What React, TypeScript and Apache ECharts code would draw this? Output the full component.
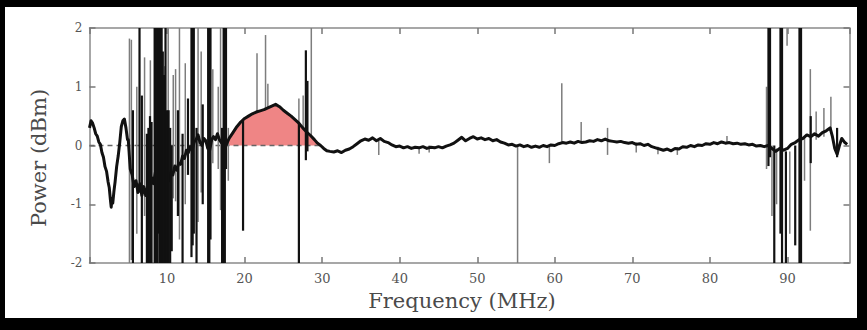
import React, { useEffect, useRef } from "react";
import * as echarts from "echarts";

// ---- data ----
// main trace, low band (0 - 17.5 MHz)
const traceLowBand: number[][] = [
  [0.0, 0.3], [0.2, 0.42], [0.4, 0.38], [0.6, 0.3], [0.8, 0.2], [1.0, 0.16], [1.2, 0.06], [1.4, 0.02],
  [1.6, -0.12], [1.8, -0.2], [2.0, -0.36], [2.2, -0.44], [2.4, -0.62], [2.55, -0.72], [2.7, -0.93],
  [2.8, -1.05], [2.9, -0.9], [3.0, -0.98], [3.15, -0.78], [3.3, -0.62], [3.5, -0.36], [3.7, -0.18],
  [3.9, 0.05], [4.1, 0.32], [4.3, 0.42], [4.5, 0.45], [4.7, 0.3], [4.9, 0.1],
  [5.0, 0.1], [5.25, -0.4], [5.5, -0.5], [5.75, -0.7], [6.0, -0.6], [6.25, -0.8], [6.5, -0.65],
  [6.75, -0.85], [7.0, -0.7], [7.25, -0.85], [7.5, -0.7], [7.75, -0.72], [8.0, -0.55], [8.25, -0.65],
  [8.5, -0.45], [8.75, -0.6], [9.0, -0.5], [9.25, -0.62], [9.5, -0.48], [9.75, -0.65], [10.0, -0.55],
  [10.25, -0.6], [10.5, -0.45], [10.75, -0.5], [11.0, -0.35], [11.25, -0.42], [11.5, -0.3],
  [11.75, -0.32], [12.0, -0.18], [12.25, -0.22], [12.5, -0.08], [12.75, -0.12], [13.0, -0.02],
  [13.25, -0.08], [13.5, 0.06], [13.75, 0.1], [14.0, 0.18], [14.25, 0.05], [14.5, 0.0], [14.75, 0.12],
  [15.0, 0.08], [15.25, -0.05], [15.5, -0.08], [15.75, 0.1], [16.0, 0.15], [16.25, 0.1], [16.5, 0.2],
  [16.75, 0.1], [17.0, 0.05], [17.3, 0.02],
];

// main trace, hump (17.6 - 31 MHz)
const traceHump: number[][] = [
  [17.6, 0.0], [18.0, 0.12], [18.5, 0.22], [19.0, 0.32], [19.5, 0.4], [20.0, 0.46], [20.5, 0.5],
  [21.0, 0.54], [21.5, 0.57], [22.0, 0.59], [22.5, 0.61], [23.0, 0.64], [23.5, 0.67], [24.0, 0.7],
  [24.5, 0.66], [25.0, 0.6], [25.5, 0.55], [26.0, 0.5], [26.5, 0.44], [27.0, 0.38], [27.5, 0.3],
  [28.0, 0.23], [28.5, 0.17], [29.0, 0.1], [29.4, 0.04], [29.8, 0.0], [30.2, -0.05], [30.6, -0.09],
  [31.0, -0.1],
];

// main trace, flat part (31.5 - 87 MHz)
const traceFlat: number[][] = [
  [31.5, -0.11], [32.0, -0.09], [32.5, -0.12], [33.0, -0.08], [33.5, -0.06], [34.0, -0.02], [34.5, 0.03],
  [35.0, 0.08], [35.5, 0.11], [36.0, 0.09], [36.5, 0.13], [37.0, 0.08], [37.5, 0.12], [38.0, 0.07],
  [38.5, 0.05], [39.0, 0.01], [39.5, -0.02], [40.0, -0.01], [40.5, -0.04], [41.0, -0.02], [41.5, -0.05],
  [42.0, -0.03], [42.5, -0.04], [43.0, -0.02], [43.5, -0.05], [44.0, -0.03], [44.5, -0.04], [45.0, -0.02],
  [45.5, -0.04], [46.0, -0.01], [46.5, 0.01], [47.0, 0.04], [47.5, 0.09], [48.0, 0.14], [48.5, 0.08],
  [49.0, 0.12], [49.5, 0.15], [50.0, 0.11], [50.5, 0.13], [51.0, 0.1], [51.5, 0.12], [52.0, 0.08],
  [52.5, 0.1], [53.0, 0.06], [53.5, 0.04], [54.0, 0.01], [54.5, 0.02], [55.0, -0.01], [55.5, 0.01],
  [56.0, -0.02], [56.5, 0.0], [57.0, -0.03], [57.5, -0.01], [58.0, -0.03], [58.5, 0.0], [59.0, -0.02],
  [59.5, 0.01], [60.0, 0.0], [60.5, 0.03], [61.0, 0.05], [61.5, 0.04], [62.0, 0.06], [62.5, 0.04],
  [63.0, 0.07], [63.5, 0.05], [64.0, 0.06], [64.5, 0.08], [65.0, 0.07], [65.5, 0.1], [66.0, 0.08],
  [66.5, 0.11], [67.0, 0.08], [67.5, 0.07], [68.0, 0.06], [68.5, 0.07], [69.0, 0.05], [69.5, 0.04],
  [70.0, 0.05], [70.5, 0.02], [71.0, 0.03], [71.5, 0.0], [72.0, 0.02], [72.5, -0.02], [73.0, -0.04],
  [73.5, -0.06], [74.0, -0.08], [74.5, -0.06], [75.0, -0.09], [75.5, -0.05], [76.0, -0.06], [76.5, -0.02],
  [77.0, -0.03], [77.5, 0.0], [78.0, -0.02], [78.5, 0.01], [79.0, 0.0], [79.5, 0.03], [80.0, 0.02],
  [80.5, 0.05], [81.0, 0.03], [81.5, 0.06], [82.0, 0.04], [82.5, 0.05], [83.0, 0.03], [83.5, 0.04],
  [84.0, 0.02], [84.5, 0.03], [85.0, 0.01], [85.5, 0.02], [86.0, -0.01], [86.5, 0.0], [87.0, -0.02],
];

// main trace, high band (87.5 - 97.7 MHz)
const traceHighBand: number[][] = [
  [87.5, 0.0], [88.0, -0.05], [88.5, -0.1], [89.0, -0.05], [89.5, -0.08], [90.0, -0.05], [90.5, 0.02],
  [91.0, 0.05], [91.5, 0.1], [92.0, 0.12], [92.5, 0.18], [93.0, 0.15], [93.5, 0.2], [94.0, 0.16],
  [94.5, 0.22], [95.0, 0.25], [95.5, 0.3], [95.8, 0.15], [96.1, -0.05], [96.4, -0.15], [96.7, 0.0],
  [97.0, 0.12], [97.4, 0.05], [97.7, 0.02],
];

// interference spikes: [freq, low, high]
const blackSpikes: number[][] = [
  [5.6, -2, 0.6], [6.45, -0.8, 2], [6.75, -2, 0.85], [7.4, -2, 0.2], [7.6, -2, 0.3], [7.8, -2, 0.5],
  [8.0, -2, 0.4], [8.4, -2, 2], [8.55, -2, 2], [8.7, -2, 2], [8.85, -1.5, 2], [9.0, -2, 2],
  [9.15, -2, 2], [9.3, -2, 2], [9.45, -2, 1.6], [9.6, -2, 1.2], [9.8, -2, 2], [10.0, -2, 0.6],
  [10.2, -2, 0.6], [10.4, -2, 0.3], [10.6, -1.8, 0.0], [11.4, -1.2, 0.6], [12.0, -2, 0.2],
  [12.7, -0.5, 0.8], [13.15, -1.9, 2], [13.3, -1.7, 2], [13.45, -1.5, 2], [13.8, -2, 0.3],
  [14.6, -1.0, 0.7], [15.3, -2, 2], [15.45, -2, 2], [15.6, -1.6, 2], [17.1, -2, 0.3],
  [17.3, -2, 2], [17.45, -2, 2], [17.6, -0.4, 2],
  [19.8, -1.45, 0.42], [27.0, -2, 0.38], [27.9, -0.25, 1.62], [28.1, -0.1, 1.1],
  [87.55, -0.35, 2], [87.75, -0.2, 2], [88.3, -2, 0.0], [89.1, -1.5, 2], [89.3, -2, 2],
  [89.8, -2, -0.1], [91.0, -1.7, 0.0], [91.55, -2, 2], [91.75, -2, 2], [93.0, -0.3, 0.5],
  [96.4, -0.2, 0.3],
];

const graySpikes: number[][] = [
  [5.15, -2, 1.82], [5.4, -1.95, 1.8], [6.1, -1.5, 1.0], [7.1, -1.2, 1.5], [7.85, -1.6, 1.45],
  [9.7, -1.3, 1.35], [10.15, -1.9, 2], [10.8, -0.9, 1.2], [11.1, -0.95, 1.3], [11.6, -1.6, 2],
  [12.35, -1.0, 1.4], [14.0, -1.3, 2], [14.4, -0.8, 1.6], [15.9, -0.3, 1.3], [16.6, -0.4, 1.0],
  [16.9, -1.1, 2], [17.9, -0.6, 0.3], [21.6, 0.55, 1.57], [22.7, 0.6, 1.88], [23.0, 0.62, 1.05],
  [27.0, 0.38, 0.8], [27.55, 0.3, 0.85], [28.6, 0.15, 2], [37.3, -0.16, 0.08], [42.5, -0.14, -0.03],
  [43.8, -0.12, 0.0], [55.2, -2, 0.0], [59.3, -0.3, 0.0], [60.9, 0.04, 1.06], [63.4, 0.05, 0.4],
  [66.8, -0.16, 0.3], [70.5, -0.12, 0.05], [73.3, -0.15, -0.02], [75.8, -0.16, -0.03],
  [82.2, 0.04, 0.16], [87.3, -0.4, 1.0], [88.0, -1.2, 0.0], [88.6, -1.0, -0.05], [89.95, 1.7, 2],
  [90.3, -1.5, -0.1], [92.2, -0.6, 0.15], [92.95, -1.45, 1.3], [93.7, 0.1, 0.58], [94.7, 0.15, 0.64],
  [95.6, 0.2, 0.83],
];

const xRange = [0, 98];
const yRange = [-2, 2];
const zeroLineRange = [0, 29.8];

const SERIF = '"DejaVu Serif", "Liberation Serif", serif';

function spikeSeries(name: string, data: number[][], color: string, width: number, z: number) {
  return {
    name,
    type: "custom",
    data,
    z,
    silent: true,
    encode: { x: 0, y: [1, 2] },
    renderItem: (_params: any, api: any) => {
      const x = api.value(0);
      const a = api.coord([x, api.value(1)]);
      const b = api.coord([x, api.value(2)]);
      return {
        type: "line",
        shape: { x1: a[0], y1: a[1], x2: b[0], y2: b[1] },
        style: { stroke: color, lineWidth: width },
      };
    },
  };
}

export default function App() {
  const ref = useRef<HTMLDivElement>(null);

  useEffect(() => {
    if (!ref.current) return;
    const chart = echarts.init(ref.current, undefined, { renderer: "svg" });

    const trace = [...traceLowBand, ...traceHump, ...traceFlat, ...traceHighBand];
    const fill = traceHump.filter((p) => p[0] >= 17.6 && p[0] <= 29.8 && p[1] >= 0);

    const axisLine = { show: true, onZero: false, lineStyle: { color: "#8a8a8a", width: 1.5 } };
    const axisTick = { show: true, inside: true, length: 6, lineStyle: { color: "#777", width: 1.5 } };

    chart.setOption({
      animation: false,
      grid: { left: 89.5, right: 17.5, top: 28, bottom: 67, containLabel: false },
      xAxis: [
        {
          type: "value", min: xRange[0], max: xRange[1], interval: 10, position: "bottom",
          axisLine, axisTick, splitLine: { show: false },
          axisLabel: {
            color: "#555", fontFamily: SERIF, fontSize: 13, margin: 9, showMaxLabel: false,
            formatter: (v: number) => (v === 0 ? "" : String(v)),
          },
        },
        {
          type: "value", min: xRange[0], max: xRange[1], interval: 10, position: "top",
          axisLine, axisTick, splitLine: { show: false }, axisLabel: { show: false },
        },
      ],
      yAxis: [
        {
          type: "value", min: yRange[0], max: yRange[1], interval: 1, position: "left",
          axisLine, axisTick, splitLine: { show: false },
          axisLabel: { color: "#555", fontFamily: SERIF, fontSize: 12, margin: 7 },
        },
        {
          type: "value", min: yRange[0], max: yRange[1], interval: 1, position: "right",
          axisLine, axisTick, splitLine: { show: false }, axisLabel: { show: false },
        },
      ],
      graphic: [
        {
          type: "text", x: 462, y: 301,
          style: { text: "Frequency (MHz)", font: `21px ${SERIF}`, fill: "#4a4a4a", textAlign: "center", textVerticalAlign: "middle" },
        },
        {
          type: "text", x: 39, y: 158, rotation: Math.PI / 2,
          style: { text: "Power (dBm)", font: `21px ${SERIF}`, fill: "#4a4a4a", textAlign: "center", textVerticalAlign: "middle" },
        },
      ],
      series: [
        {
          name: "fill", type: "line", data: fill, symbol: "none", z: 1, silent: true,
          lineStyle: { width: 0 }, areaStyle: { color: "#ef8585", opacity: 1 },
        },
        {
          name: "zero", type: "line", data: [[zeroLineRange[0], 0], [zeroLineRange[1], 0]], symbol: "none", z: 2, silent: true,
          lineStyle: { color: "#666", width: 1.5, type: [5, 4] },
        },
        spikeSeries("raw", graySpikes, "#7d7d7d", 1.5, 3),
        {
          name: "power", type: "line", data: trace, symbol: "none", z: 4, silent: true,
          lineStyle: { color: "#111", width: 3, join: "round" },
        },
        spikeSeries("interference", blackSpikes, "#111", 2.2, 5),
      ],
    });

    return () => chart.dispose();
  }, []);

  return (
    <div style={{ position: "fixed", left: 0, top: 0, width: 867, height: 330, background: "#000" }}>
      <div style={{ position: "absolute", left: 5, top: 7, width: 852, height: 311, background: "#fff" }} />
      <div ref={ref} style={{ position: "absolute", left: 0, top: 0, width: 867, height: 330 }} />
    </div>
  );
}
